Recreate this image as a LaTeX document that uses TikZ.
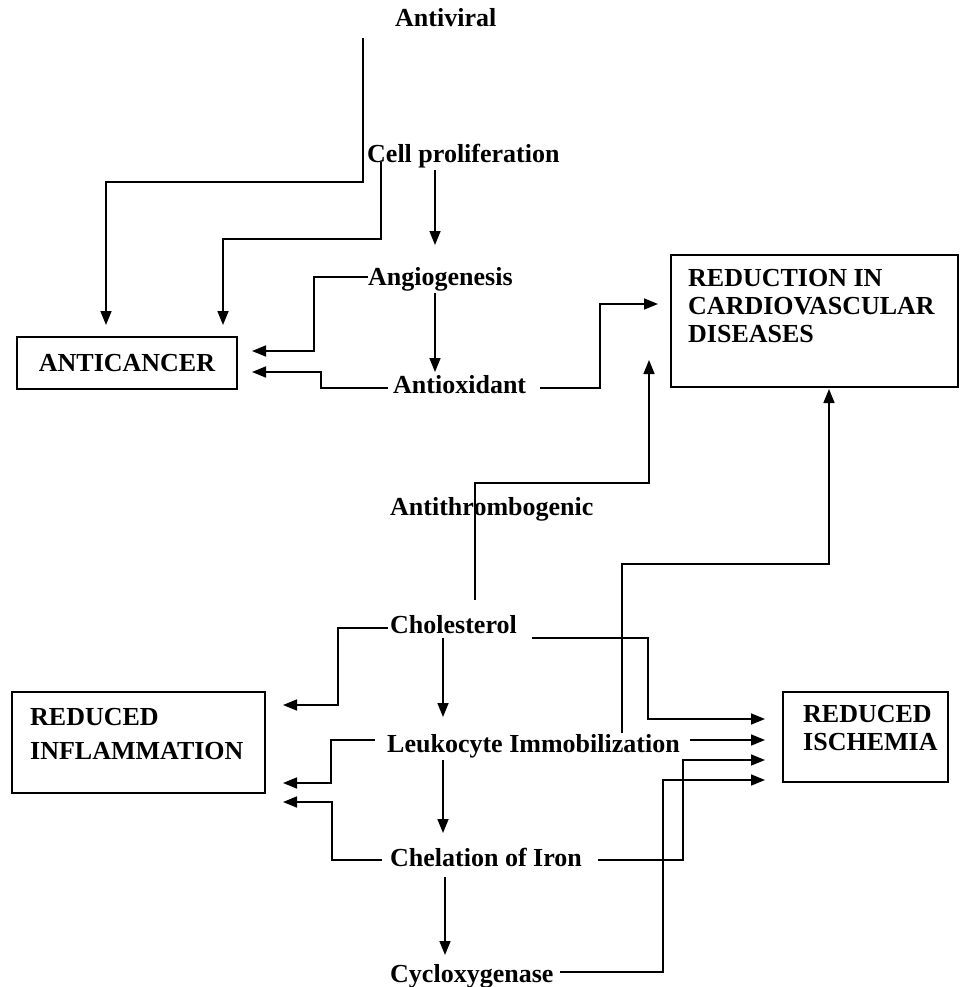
\documentclass[tikz,border=0pt]{standalone}
\usepackage{fontspec}
\setmainfont{Liberation Serif}
\usetikzlibrary{arrows.meta}
\begin{document}
\begin{tikzpicture}[x=1pt,y=-1pt,
  lbl/.style={inner sep=0pt, anchor=base west, font=\bfseries\fontsize{26}{28}\selectfont},
  boxlbl/.style={lbl, align=left},
  box/.style={draw, line width=1.5pt, inner sep=0pt},
  conn/.style={line width=1.6pt},
  arr/.style={conn, -{Triangle[length=14pt,width=11pt]}}]
\path[use as bounding box] (0,0) rectangle (959,987);

% boxes
\node[box, minimum width=220pt, minimum height=52pt] (ac) at (127,363) {};
\node[lbl, anchor=center] (actext) at (ac.center) {ANTICANCER};
\node[box, minimum width=287pt, minimum height=132pt] (cvd) at (814.5,321) {};
\node[boxlbl] (cvdtext) at (688,342) {REDUCTION IN\\CARDIOVASCULAR\\DISEASES};
\node[box, minimum width=253pt, minimum height=101pt] (infl) at (138.5,742.5) {};
\node[boxlbl, font=\bfseries\fontsize{26}{34}\selectfont] (infltext) at (30,759) {REDUCED\\INFLAMMATION};
\node[box, minimum width=165pt, minimum height=90pt] (isch) at (865.5,737) {};
\node[boxlbl] (ischtext) at (803,750) {REDUCED\\ISCHEMIA};

% labels
\node[lbl] (antiviral) at (395,27) {Antiviral};
\node[lbl] (cellp) at (367,163) {Cell proliferation};
\node[lbl] (angio) at (368,285) {Angiogenesis};
\node[lbl] (antiox) at (393,393) {Antioxidant};
\node[lbl] (antithr) at (390,515) {Antithrombogenic};
\node[lbl] (chol) at (390,633) {Cholesterol};
\node[lbl] (leuko) at (387,752) {Leukocyte Immobilization};
\node[lbl] (chel) at (390,866) {Chelation of Iron};
\node[lbl] (cyclo) at (390,982) {Cycloxygenase};

% start points of connectors
\coordinate (avs) at (363,38);
\coordinate (cps) at (381,162);
\coordinate (ats) at (475,600);
\coordinate (lks) at (622,733);

% top part
\draw[arr] (avs) |- (106,182) -- (106,325);
\draw[arr] (cps) |- (223,239) -- (223,325);
\draw[arr] (435,170) -- (435,245);
\draw[arr] (angio.west |- 0,277) -| (314,351) -- (252,351);
\draw[arr] (435,293) -- (435,372);
\draw[arr] (388,388) -| (321,372) -- (252,372);
\draw[arr] (540,388) -| (600,304) -- (658,304);
\draw[arr] (ats) |- (649,483) -- (649,360);
\draw[arr] (lks) |- (829,564) -- (829,389);

% bottom part
\draw[arr] (388,628) -| (338,705) -- (283,705);
\draw[arr] (443,638) -- (443,717);
\draw[arr] (532,638) -| (648,719) -- (765,719);
\draw[arr] (375,740) -| (331,783) -- (283,783);
\draw[arr] (690,740) -- (765,740);
\draw[arr] (443,760) -- (443,833);
\draw[arr] (382,860) -| (332,802) -- (283,802);
\draw[arr] (598,860) -| (683,760) -- (765,760);
\draw[arr] (445,877) -- (445,955);
\draw[arr] (560,972) -| (663,780) -- (765,780);
\end{tikzpicture}
\end{document}
